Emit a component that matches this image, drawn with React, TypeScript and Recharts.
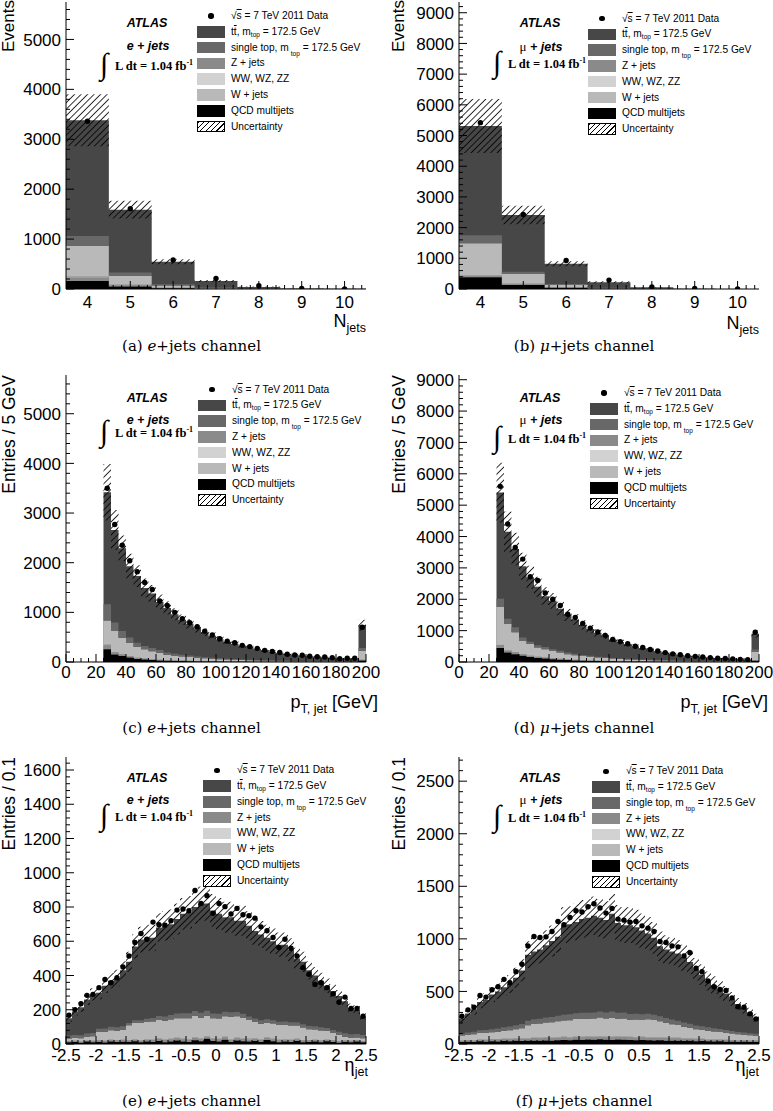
import React from "react";
import { Area, ComposedChart, Scatter, XAxis, YAxis } from "recharts";

const COLORS = {
  tt: "#474747",
  st: "#686868",
  z: "#8a8a8a",
  ww: "#d2d2d2",
  w: "#b9b9b9",
  qcd: "#000000",
};

const SANS = "'Liberation Sans', Arial, Helvetica, sans-serif";
const SERIF = "'Liberation Serif', 'Times New Roman', serif";
const CAPTION = "'DejaVu Serif', serif";

// (a) e+jets, jet multiplicity
const nJetEdges = [3.5, 4.5, 5.5, 6.5, 7.5, 8.5, 9.5, 10.5];
const aTot = [3380, 1590, 545, 160, 42, 11, 3];
const aQcd = [160, 50, 15, 5, 1, 0, 0];
const aZ = [70, 25, 8, 2, 1, 0, 0];
const aWW = [20, 8, 3, 1, 0, 0, 0];
const aW = [610, 180, 45, 12, 3, 1, 0];
const aST = [200, 70, 25, 8, 2, 1, 0];
const aUnc = [520, 180, 50, 22, 8, 3, 1];
const aData = [3360, 1610, 580, 210, 65, 12, 3];

// (b) mu+jets, jet multiplicity
const bTot = [5310, 2410, 820, 220, 55, 12, 3];
const bQcd = [380, 130, 40, 10, 2, 0, 0];
const bZ = [60, 30, 10, 3, 1, 0, 0];
const bWW = [20, 10, 3, 1, 0, 0, 0];
const bW = [1030, 320, 80, 20, 5, 1, 0];
const bST = [260, 70, 30, 10, 3, 1, 0];
const bUnc = [880, 300, 80, 35, 10, 3, 1];
const bData = [5420, 2430, 930, 290, 70, 15, 3];

// (c) e+jets, jet pT (5 GeV bins from 25, last bin with overflow)
const cTot = [3420, 2660, 2290, 1930, 1730, 1490, 1380, 1210, 1090, 960, 850, 770, 680, 600, 530, 460, 410, 370, 330, 295, 265, 235, 205, 185, 160, 145, 130, 115, 105, 95, 85, 75, 70, 65, 740];
const cQcd = [255, 150, 120, 90, 60, 50, 40, 30, 25, 20, 18, 15, 12, 10, 9, 8, 7, 6, 5, 5, 4, 4, 3, 3, 3, 2, 2, 2, 2, 1, 1, 1, 1, 1, 30];
const cZ = [80, 40, 30, 25, 20, 15, 15, 12, 10, 9, 8, 7, 6, 5, 4, 4, 3, 3, 3, 2, 2, 2, 2, 1, 1, 1, 1, 1, 1, 1, 1, 1, 0, 0, 10];
const cWW = [10, 8, 6, 5, 4, 4, 3, 3, 3, 2, 2, 2, 2, 1, 1, 1, 1, 1, 1, 1, 1, 0, 0, 0, 0, 0, 0, 0, 0, 0, 0, 0, 0, 0, 3];
const cW = [490, 425, 334, 270, 224, 186, 160, 140, 110, 95, 85, 75, 65, 58, 50, 44, 38, 34, 30, 27, 24, 21, 18, 16, 14, 13, 12, 10, 9, 8, 7, 7, 6, 6, 180];
const cST = [330, 170, 133, 105, 80, 67, 65, 55, 45, 40, 35, 30, 27, 24, 21, 18, 16, 14, 12, 11, 10, 9, 8, 7, 6, 6, 5, 5, 4, 4, 3, 3, 3, 2, 60];
const cUnc = [570, 400, 260, 250, 220, 190, 170, 150, 135, 120, 105, 95, 85, 75, 66, 58, 52, 47, 42, 38, 34, 30, 27, 24, 21, 19, 17, 15, 14, 13, 12, 10, 10, 9, 110];
const cData = [3500, 2770, 2350, 2040, 1820, 1600, 1460, 1230, 1140, 1000, 870, 790, 710, 620, 545, 470, 420, 390, 335, 310, 275, 235, 210, 190, 155, 140, 135, 115, 105, 100, 85, 65, 75, 75, 700];

// (d) mu+jets, jet pT
const dTot = [5400, 4150, 3600, 3050, 2700, 2400, 2100, 1950, 1700, 1500, 1350, 1180, 1050, 930, 830, 720, 640, 570, 500, 450, 400, 350, 300, 265, 235, 205, 180, 160, 140, 125, 110, 100, 90, 80, 900];
const dQcd = [450, 300, 250, 200, 160, 130, 110, 90, 75, 60, 50, 42, 35, 30, 25, 22, 19, 16, 14, 12, 10, 9, 8, 7, 6, 5, 5, 4, 4, 3, 3, 3, 2, 2, 40];
const dZ = [100, 60, 50, 40, 35, 30, 25, 22, 20, 17, 15, 13, 11, 10, 9, 8, 7, 6, 5, 5, 4, 4, 3, 3, 3, 2, 2, 2, 2, 1, 1, 1, 1, 1, 15];
const dWW = [20, 15, 12, 10, 8, 7, 6, 6, 5, 4, 4, 3, 3, 3, 2, 2, 2, 2, 1, 1, 1, 1, 1, 1, 1, 0, 0, 0, 0, 0, 0, 0, 0, 0, 4];
const dW = [1180, 840, 633, 427, 367, 295, 267, 230, 200, 170, 150, 130, 115, 100, 88, 76, 67, 59, 52, 46, 41, 36, 32, 28, 25, 22, 20, 17, 15, 14, 12, 11, 10, 9, 260];
const dST = [270, 160, 160, 107, 75, 75, 70, 60, 55, 48, 42, 37, 32, 28, 25, 22, 19, 17, 15, 13, 12, 10, 9, 8, 7, 6, 6, 5, 5, 4, 4, 3, 3, 3, 80];
const dUnc = [950, 650, 520, 430, 370, 320, 280, 250, 220, 190, 170, 150, 130, 115, 100, 88, 78, 70, 61, 55, 49, 43, 37, 33, 29, 25, 22, 20, 17, 15, 14, 12, 11, 10, 120];
const dData = [5600, 4400, 3650, 3280, 2720, 2600, 2200, 2000, 1800, 1520, 1420, 1230, 1080, 960, 850, 720, 650, 580, 500, 460, 400, 350, 300, 260, 230, 200, 180, 160, 140, 120, 110, 100, 85, 75, 950];

// (e) e+jets, jet eta (0.1 bins)
const eTot = [150, 190, 215, 260, 290, 300, 340, 370, 385, 430, 480, 570, 610, 620, 620, 680, 690, 700, 730, 760, 770, 800, 820, 820, 780, 760, 740, 740, 720, 720, 690, 660, 640, 620, 600, 580, 580, 550, 500, 480, 430, 400, 370, 340, 310, 280, 250, 210, 200, 160];
const eQcd = [10, 12, 8, 14, 10, 12, 9, 15, 11, 13, 12, 16, 10, 14, 12, 18, 10, 15, 20, 14, 12, 22, 16, 30, 18, 14, 25, 12, 20, 16, 14, 18, 12, 24, 16, 10, 14, 12, 18, 10, 12, 14, 10, 16, 12, 8, 12, 10, 14, 10];
const eZ = [6, 6, 7, 7, 8, 8, 8, 9, 9, 10, 10, 11, 11, 12, 12, 12, 13, 13, 13, 14, 14, 14, 14, 14, 14, 14, 14, 14, 14, 13, 13, 13, 13, 12, 12, 12, 11, 11, 10, 10, 10, 9, 9, 8, 8, 8, 7, 7, 6, 6];
const eWW = [2, 2, 2, 2, 2, 2, 2, 2, 2, 2, 2, 2, 3, 3, 3, 3, 3, 3, 3, 3, 3, 3, 3, 3, 3, 3, 3, 3, 3, 3, 3, 3, 3, 3, 3, 3, 3, 3, 2, 2, 2, 2, 2, 2, 2, 2, 2, 2, 2, 2];
const eW = [14, 15, 16, 20, 25, 48, 52, 55, 56, 58, 85, 95, 100, 100, 105, 108, 110, 112, 115, 120, 122, 125, 120, 118, 115, 118, 120, 130, 125, 120, 110, 95, 90, 85, 88, 86, 84, 82, 78, 75, 62, 60, 58, 50, 42, 35, 22, 18, 16, 15];
const eST = [18, 18, 18, 19, 19, 19, 19, 20, 20, 20, 14, 14, 15, 18, 20, 22, 24, 26, 27, 28, 29, 29, 29, 29, 28, 28, 27, 26, 25, 24, 20, 20, 20, 20, 20, 19, 19, 19, 19, 19, 19, 19, 19, 18, 18, 18, 20, 20, 20, 20];
const eUnc = [20, 24, 27, 32, 36, 38, 42, 46, 48, 53, 59, 70, 75, 76, 76, 83, 85, 86, 90, 93, 95, 98, 100, 100, 96, 93, 91, 91, 88, 88, 85, 81, 79, 76, 74, 71, 71, 68, 62, 59, 53, 49, 46, 42, 38, 35, 31, 26, 25, 20];
const eData = [168, 201, 235, 284, 290, 329, 377, 358, 387, 450, 514, 593, 645, 612, 712, 696, 694, 720, 782, 788, 778, 896, 821, 866, 763, 821, 802, 759, 792, 755, 749, 735, 684, 661, 622, 563, 612, 559, 514, 446, 407, 348, 358, 329, 293, 244, 274, 207, 207, 162];

// (f) mu+jets, jet eta
const fTot = [240, 290, 330, 400, 420, 470, 500, 540, 570, 630, 700, 850, 880, 900, 940, 980, 1020, 1130, 1140, 1160, 1190, 1200, 1220, 1200, 1180, 1240, 1150, 1130, 1130, 1110, 1080, 1050, 1010, 930, 900, 880, 860, 820, 780, 710, 660, 600, 560, 520, 480, 430, 380, 340, 300, 250];
const fQcd = [20, 22, 20, 25, 22, 25, 24, 28, 26, 30, 28, 30, 32, 30, 34, 32, 35, 38, 36, 40, 38, 42, 40, 45, 40, 38, 42, 40, 38, 36, 38, 35, 34, 36, 32, 30, 32, 28, 30, 26, 28, 25, 24, 25, 22, 22, 20, 22, 20, 18];
const fZ = [12, 13, 14, 15, 16, 17, 18, 19, 20, 21, 22, 23, 24, 24, 25, 25, 26, 26, 26, 27, 27, 27, 27, 27, 27, 27, 27, 27, 27, 26, 26, 26, 25, 25, 24, 24, 23, 22, 21, 20, 19, 18, 17, 16, 15, 14, 14, 13, 12, 12];
const fWW = [3, 3, 3, 4, 4, 4, 4, 4, 4, 4, 5, 5, 5, 5, 5, 5, 5, 5, 5, 5, 5, 5, 5, 5, 5, 5, 5, 5, 5, 5, 5, 5, 5, 5, 5, 5, 5, 4, 4, 4, 4, 4, 4, 4, 4, 3, 3, 3, 3, 3];
const fW = [45, 50, 55, 60, 62, 65, 70, 75, 80, 85, 95, 120, 130, 135, 140, 145, 150, 155, 160, 165, 170, 165, 170, 175, 170, 180, 165, 170, 160, 165, 160, 170, 165, 150, 140, 130, 120, 110, 100, 90, 85, 80, 75, 70, 65, 60, 55, 50, 48, 45];
const fST = [20, 22, 24, 26, 28, 30, 32, 34, 36, 38, 40, 42, 44, 46, 48, 50, 52, 54, 55, 56, 57, 58, 58, 58, 58, 58, 58, 57, 56, 55, 54, 52, 50, 48, 46, 44, 42, 40, 38, 36, 34, 32, 30, 28, 26, 24, 22, 22, 20, 20];
const fUnc = [36, 44, 50, 60, 63, 70, 75, 81, 85, 95, 105, 128, 132, 135, 141, 147, 153, 170, 171, 174, 179, 180, 183, 180, 177, 186, 173, 170, 170, 166, 162, 158, 151, 140, 135, 132, 129, 123, 117, 107, 99, 90, 84, 78, 72, 65, 57, 51, 45, 38];
const fData = [264, 325, 350, 462, 446, 516, 545, 615, 583, 688, 758, 933, 1022, 1013, 1019, 1070, 1166, 1134, 1204, 1268, 1255, 1306, 1334, 1293, 1245, 1290, 1188, 1178, 1159, 1166, 1124, 1102, 1070, 975, 965, 933, 924, 838, 869, 720, 688, 599, 545, 519, 510, 439, 354, 350, 287, 239];

type Series = {
  tot: number[];
  qcd: number[];
  z: number[];
  ww: number[];
  w: number[];
  st: number[];
  unc: number[];
  data: number[];
};

const round = (v: number) => Math.round(v * 10000) / 10000;

function binEdges(start: number, width: number, n: number) {
  const out: number[] = [];
  for (let i = 0; i <= n; i++) out.push(round(start + i * width));
  return out;
}

function makeTicks(lo: number, hi: number, step: number) {
  const out: number[] = [];
  const n = Math.round((hi - lo) / step);
  for (let i = 0; i <= n; i++) out.push(round(lo + i * step));
  return out;
}

const isMajor = (v: number, step: number) => Math.abs(v / step - Math.round(v / step)) < 1e-6;

function histRows(edges: number[], s: Series) {
  const rows = edges.slice(0, -1).map((x, i) => ({
    x,
    tot: s.tot[i],
    qcd: s.qcd[i],
    z: s.z[i],
    ww: s.ww[i],
    w: s.w[i],
    st: s.st[i],
    unc: [s.tot[i] - s.unc[i], s.tot[i] + s.unc[i]],
  }));
  rows.push({ ...rows[rows.length - 1], x: edges[edges.length - 1] });
  return rows;
}

const PLOT_W = 300;
const PLOT_H = 287;
const TOP_PAD = 12;
const RIGHT_PAD = 18;
const MAJOR_LEN = 8;
const MINOR_LEN = 4;

type PanelProps = {
  id: string;
  left: number;
  yW: number;
  plotY: number;
  edges: number[];
  s: Series;
  xDomain: [number, number];
  xTicks: number[];
  xMajor: number;
  xLabelOff: number;
  yMax: number;
  yTicks: number[];
  yMajor: number;
};

function Panel(p: PanelProps) {
  const rows = histRows(p.edges, p.s);
  const points = p.edges.slice(0, -1).map((e, i) => ({ x: round((e + p.edges[i + 1]) / 2), y: p.s.data[i] }));
  const width = p.yW + PLOT_W + RIGHT_PAD;
  const height = TOP_PAD + PLOT_H + 30;
  const hatch = `hatch-${p.id}`;

  const bottomTick = (props: any) => {
    const { x, y, payload } = props;
    const maj = isMajor(payload.value, p.xMajor);
    return (
      <g>
        <line x1={x} x2={x} y1={y} y2={y - (maj ? MAJOR_LEN : MINOR_LEN)} stroke="#000" />
        {maj && (
          <text x={x} y={y + p.xLabelOff} dy="0.36em" textAnchor="middle" fontSize={17} fontFamily={SANS} fill="#000">
            {String(payload.value)}
          </text>
        )}
      </g>
    );
  };
  const topTick = (props: any) => {
    const { x, y, payload } = props;
    const maj = isMajor(payload.value, p.xMajor);
    return <line x1={x} x2={x} y1={y} y2={y + (maj ? MAJOR_LEN : MINOR_LEN)} stroke="#000" />;
  };
  const leftTick = (props: any) => {
    const { x, y, payload } = props;
    const maj = isMajor(payload.value, p.yMajor);
    return (
      <g>
        <line x1={x} x2={x + (maj ? MAJOR_LEN : MINOR_LEN)} y1={y} y2={y} stroke="#000" />
        {maj && (
          <text x={x - 5} y={y} dy="0.36em" textAnchor="end" fontSize={17} fontFamily={SANS} fill="#000">
            {String(payload.value)}
          </text>
        )}
      </g>
    );
  };
  const rightTick = (props: any) => {
    const { x, y, payload } = props;
    const maj = isMajor(payload.value, p.yMajor);
    return <line x1={x} x2={x - (maj ? MAJOR_LEN : MINOR_LEN)} y1={y} y2={y} stroke="#000" />;
  };

  const area = (key: string, color: string, stacked: boolean) => (
    <Area
      key={key}
      xAxisId="b"
      yAxisId="l"
      dataKey={key}
      type="stepAfter"
      stackId={stacked ? "s" : undefined}
      stroke="none"
      fill={color}
      fillOpacity={1}
      isAnimationActive={false}
    />
  );

  return (
    <div style={{ position: "absolute", left: p.left, top: p.plotY - TOP_PAD }}>
      <ComposedChart width={width} height={height} data={rows} margin={{ top: TOP_PAD, right: RIGHT_PAD, bottom: 0, left: 0 }}>
        <defs>
          <pattern id={hatch} width={4.6} height={4.6} patternUnits="userSpaceOnUse" patternTransform="rotate(45)">
            <line x1={2.3} y1={0} x2={2.3} y2={4.6} stroke="#000" strokeWidth={0.8} />
          </pattern>
        </defs>
        {area("tot", COLORS.tt, false)}
        {area("qcd", COLORS.qcd, true)}
        {area("z", COLORS.z, true)}
        {area("ww", COLORS.ww, true)}
        {area("w", COLORS.w, true)}
        {area("st", COLORS.st, true)}
        <Area
          xAxisId="b"
          yAxisId="l"
          dataKey="unc"
          type="stepAfter"
          stroke="none"
          fill={`url(#${hatch})`}
          fillOpacity={1}
          isAnimationActive={false}
        />
        <Scatter
          xAxisId="b"
          yAxisId="l"
          data={points}
          dataKey="y"
          isAnimationActive={false}
          shape={(sp: any) => <circle cx={sp.cx} cy={sp.cy} r={2.7} fill="#000" />}
        />
        <XAxis
          xAxisId="b"
          type="number"
          dataKey="x"
          domain={p.xDomain}
          allowDataOverflow
          ticks={p.xTicks}
          interval={0}
          height={30}
          tickSize={0}
          tickMargin={0}
          tickLine={false}
          axisLine={{ stroke: "#000" }}
          tick={bottomTick}
        />
        <XAxis
          xAxisId="t"
          orientation="top"
          type="number"
          dataKey="x"
          domain={p.xDomain}
          allowDataOverflow
          ticks={p.xTicks}
          interval={0}
          height={0}
          tickSize={0}
          tickMargin={0}
          tickLine={false}
          axisLine={{ stroke: "#000" }}
          tick={topTick}
        />
        <YAxis
          yAxisId="l"
          type="number"
          domain={[0, p.yMax]}
          allowDataOverflow
          ticks={p.yTicks}
          interval={0}
          width={p.yW}
          tickSize={0}
          tickMargin={0}
          tickLine={false}
          axisLine={{ stroke: "#000" }}
          tick={leftTick}
        />
        <YAxis
          yAxisId="r"
          orientation="right"
          type="number"
          domain={[0, p.yMax]}
          allowDataOverflow
          ticks={p.yTicks}
          interval={0}
          width={0}
          tickSize={0}
          tickMargin={0}
          tickLine={false}
          axisLine={{ stroke: "#000" }}
          tick={rightTick}
        />
      </ComposedChart>
    </div>
  );
}

const sub = (t: string, drop: number, size = 6.5) => (
  <span style={{ fontSize: size, position: "relative", top: drop }}>{t}</span>
);

function LegendBlock({ x, y }: { x: number; y: number }) {
  const PITCH = 15.8;
  const items: { fill?: string; label: React.ReactNode }[] = [
    {
      label: (
        <>
          √<span style={{ textDecoration: "overline" }}>s</span> = 7 TeV 2011 Data
        </>
      ),
    },
    {
      fill: COLORS.tt,
      label: (
        <>
          t<span style={{ textDecoration: "overline" }}>t</span>, m{sub("top", 2)} = 172.5 GeV
        </>
      ),
    },
    {
      fill: COLORS.st,
      label: (
        <>
          single top, m<span style={{ marginLeft: 2, marginRight: 3 }}>{sub("top", 5)}</span>= 172.5 GeV
        </>
      ),
    },
    { fill: COLORS.z, label: "Z + jets" },
    { fill: COLORS.ww, label: "WW, WZ, ZZ" },
    { fill: COLORS.w, label: "W + jets" },
    { fill: COLORS.qcd, label: "QCD multijets" },
    { fill: "hatch", label: "Uncertainty" },
  ];
  return (
    <>
      {items.map((it, k) => {
        const cy = y + k * PITCH;
        return (
          <React.Fragment key={k}>
            {k === 0 ? (
              <div
                style={{
                  position: "absolute",
                  left: x + 14 - 2.7,
                  top: cy - 2.7,
                  width: 5.4,
                  height: 5.4,
                  borderRadius: "50%",
                  background: "#000",
                }}
              />
            ) : (
              <div
                style={{
                  position: "absolute",
                  left: x,
                  top: cy - 5.75,
                  width: 28,
                  height: 11.5,
                  boxSizing: "border-box",
                  background:
                    it.fill === "hatch"
                      ? "repeating-linear-gradient(135deg, #000 0 0.8px, #fff 0.8px 3.8px)"
                      : it.fill,
                  border: it.fill === "hatch" ? "1px solid #000" : undefined,
                }}
              />
            )}
            <div
              style={{
                position: "absolute",
                left: x + 34,
                top: cy - 6,
                lineHeight: "12px",
                fontSize: 10.2,
                whiteSpace: "nowrap",
                fontFamily: SANS,
                color: "#000",
              }}
            >
              {it.label}
            </div>
          </React.Fragment>
        );
      })}
    </>
  );
}

type DecorProps = {
  plotX: number;
  plotY: number;
  mu: boolean;
  atlasY: number;
  jetsY: number;
  lumY: number;
  legX: number;
  legY: number;
};

function Decor(d: DecorProps) {
  const bi: React.CSSProperties = { fontFamily: SANS, fontWeight: 700, fontStyle: "italic", fontSize: 12.5 };
  return (
    <>
      <div
        style={{
          ...bi,
          position: "absolute",
          left: d.plotX + 81 - 40,
          width: 80,
          textAlign: "center",
          top: d.plotY + d.atlasY - 7,
          lineHeight: "14px",
        }}
      >
        ATLAS
      </div>
      <div
        style={{
          ...bi,
          position: "absolute",
          left: d.plotX + 82 - 40,
          width: 80,
          textAlign: "center",
          top: d.plotY + d.jetsY - 7,
          lineHeight: "14px",
          whiteSpace: "nowrap",
        }}
      >
        {d.mu ? (
          <>
            <span style={{ fontFamily: SERIF, fontWeight: 400, fontStyle: "normal", fontSize: 13 }}>μ</span> + jets
          </>
        ) : (
          "e + jets"
        )}
      </div>
      <div
        style={{
          position: "absolute",
          left: d.plotX + 34,
          top: d.plotY + d.lumY - 17,
          fontFamily: SERIF,
          fontSize: 30,
          lineHeight: "30px",
        }}
      >
        ∫
      </div>
      <div
        style={{
          position: "absolute",
          left: d.plotX + 49,
          top: d.plotY + d.lumY - 7,
          fontFamily: SERIF,
          fontWeight: 700,
          fontSize: 12.5,
          lineHeight: "14px",
          whiteSpace: "nowrap",
        }}
      >
        L dt = 1.04 fb<span style={{ fontSize: 8, position: "relative", top: -5 }}>-1</span>
      </div>
      <LegendBlock x={d.legX} y={d.plotY + d.legY} />
    </>
  );
}

function YTitle({ x, top, text, size = 17.5 }: { x: number; top: number; text: string; size?: number }) {
  return (
    <div
      style={{
        position: "absolute",
        right: 773 - x,
        top,
        transformOrigin: "100% 0",
        transform: "rotate(-90deg)",
        whiteSpace: "nowrap",
        fontFamily: SANS,
        fontSize: size,
        lineHeight: "18px",
      }}
    >
      {text}
    </div>
  );
}

function XTitle({ right, top, main, subText, serifMain, tail }: { right: number; top: number; main: string; subText: string; serifMain?: boolean; tail?: string }) {
  return (
    <div
      style={{
        position: "absolute",
        right: 773 - right,
        top,
        whiteSpace: "nowrap",
        fontFamily: SANS,
        fontSize: 18,
        lineHeight: "20px",
      }}
    >
      <span style={{ fontFamily: serifMain ? SERIF : SANS, fontSize: serifMain ? 20 : 18 }}>{main}</span>
      <span style={{ fontSize: 12.5, position: "relative", top: 5 }}>{subText}</span>
      {tail && <span>{tail}</span>}
    </div>
  );
}

function Caption({ cx, cy, tag, mu }: { cx: number; cy: number; tag: string; mu: boolean }) {
  return (
    <div
      style={{
        position: "absolute",
        left: cx - 120,
        width: 240,
        top: cy - 8,
        lineHeight: "16px",
        textAlign: "center",
        fontFamily: CAPTION,
        fontSize: 15,
      }}
    >
      ({tag}) <i>{mu ? "μ" : "e"}</i>+jets channel
    </div>
  );
}

const ptEdges = binEdges(25, 5, 35);
const etaEdges = binEdges(-2.5, 0.1, 50);

const S = (tot: number[], qcd: number[], z: number[], ww: number[], w: number[], st: number[], unc: number[], data: number[]): Series => ({
  tot, qcd, z, ww, w, st, unc, data,
});

export default function App() {
  const L = { left: 0, yW: 66, plotX: 66 };
  const R = { left: 390, yW: 69, plotX: 459 };
  return (
    <div style={{ position: "relative", width: 773, height: 1111, background: "#fff", overflow: "hidden" }}>
      <style>{"html,body{margin:0;padding:0;background:#fff}"}</style>

      {/* row 1: jet multiplicity */}
      <Panel id="a" left={L.left} yW={L.yW} plotY={2} edges={nJetEdges} s={S(aTot, aQcd, aZ, aWW, aW, aST, aUnc, aData)}
        xDomain={[3.5, 10.5]} xTicks={makeTicks(3.6, 10.4, 0.2)} xMajor={1} xLabelOff={13}
        yMax={5750} yTicks={makeTicks(0, 5600, 200)} yMajor={1000} />
      <Panel id="b" left={R.left} yW={R.yW} plotY={2} edges={nJetEdges} s={S(bTot, bQcd, bZ, bWW, bW, bST, bUnc, bData)}
        xDomain={[3.5, 10.5]} xTicks={makeTicks(3.6, 10.4, 0.2)} xMajor={1} xLabelOff={13}
        yMax={9350} yTicks={makeTicks(0, 9200, 200)} yMajor={1000} />

      {/* row 2: jet pT */}
      <Panel id="c" left={L.left} yW={L.yW} plotY={375} edges={ptEdges} s={S(cTot, cQcd, cZ, cWW, cW, cST, cUnc, cData)}
        xDomain={[0, 200]} xTicks={makeTicks(0, 200, 5)} xMajor={20} xLabelOff={10}
        yMax={5780} yTicks={makeTicks(0, 5600, 200)} yMajor={1000} />
      <Panel id="d" left={R.left} yW={R.yW} plotY={375} edges={ptEdges} s={S(dTot, dQcd, dZ, dWW, dW, dST, dUnc, dData)}
        xDomain={[0, 200]} xTicks={makeTicks(0, 200, 5)} xMajor={20} xLabelOff={10}
        yMax={9150} yTicks={makeTicks(0, 9000, 200)} yMajor={1000} />

      {/* row 3: jet eta */}
      <Panel id="e" left={L.left} yW={L.yW} plotY={757} edges={etaEdges} s={S(eTot, eQcd, eZ, eWW, eW, eST, eUnc, eData)}
        xDomain={[-2.5, 2.5]} xTicks={makeTicks(-2.5, 2.5, 0.1)} xMajor={0.5} xLabelOff={11}
        yMax={1676} yTicks={makeTicks(0, 1640, 40)} yMajor={200} />
      <Panel id="f" left={R.left} yW={R.yW} plotY={757} edges={etaEdges} s={S(fTot, fQcd, fZ, fWW, fW, fST, fUnc, fData)}
        xDomain={[-2.5, 2.5]} xTicks={makeTicks(-2.5, 2.5, 0.1)} xMajor={0.5} xLabelOff={11}
        yMax={2730} yTicks={makeTicks(0, 2700, 100)} yMajor={500} />

      <Decor plotX={L.plotX} plotY={2} mu={false} atlasY={20.5} jetsY={44} lumY={64} legX={197} legY={14} />
      <Decor plotX={R.plotX} plotY={2} mu={true} atlasY={20.5} jetsY={45} lumY={62} legX={588} legY={16.5} />
      <Decor plotX={L.plotX} plotY={375} mu={false} atlasY={22.5} jetsY={45} lumY={58} legX={198} legY={14.5} />
      <Decor plotX={R.plotX} plotY={375} mu={true} atlasY={22.5} jetsY={45} lumY={64} legX={590} legY={18} />
      <Decor plotX={L.plotX} plotY={757} mu={false} atlasY={20.5} jetsY={43} lumY={60} legX={203} legY={13.2} />
      <Decor plotX={R.plotX} plotY={757} mu={true} atlasY={20.5} jetsY={43} lumY={61} legX={592} legY={14.2} />

      <YTitle x={0} top={0} text="Events" size={17} />
      <YTitle x={390} top={0} text="Events" size={17} />
      <YTitle x={0} top={375} text="Entries / 5 GeV" />
      <YTitle x={390} top={375} text="Entries / 5 GeV" />
      <YTitle x={0} top={757} text="Entries / 0.1" />
      <YTitle x={390} top={757} text="Entries / 0.1" />

      <XTitle right={366} top={311} main="N" subText="jets" />
      <XTitle right={759} top={313} main="N" subText="jets" />
      <XTitle right={378} top={692} main="p" subText="T, jet" tail=" [GeV]" />
      <XTitle right={768} top={692} main="p" subText="T, jet" tail=" [GeV]" />
      <XTitle right={368} top={1054} main="η" subText="jet" serifMain />
      <XTitle right={759} top={1054} main="η" subText="jet" serifMain />

      <Caption cx={191.5} cy={346} tag="a" mu={false} />
      <Caption cx={584} cy={346} tag="b" mu={true} />
      <Caption cx={191.5} cy={727.5} tag="c" mu={false} />
      <Caption cx={584} cy={727.5} tag="d" mu={true} />
      <Caption cx={191.5} cy={1101} tag="e" mu={false} />
      <Caption cx={584} cy={1101} tag="f" mu={true} />
    </div>
  );
}
